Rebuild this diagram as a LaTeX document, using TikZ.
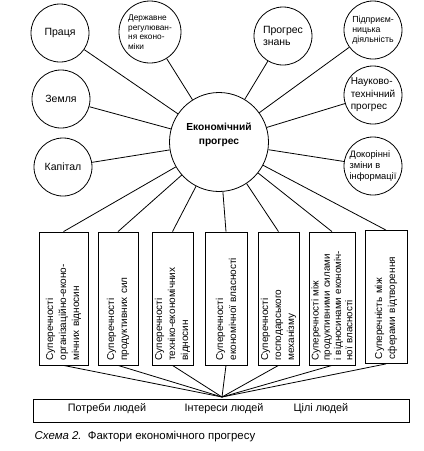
\documentclass[tikz,border=0pt]{standalone}
\usepackage{fontspec}
\setmainfont{Liberation Sans}
\tikzset{
        factor/.style = {inner sep=0pt, line width=0.8pt, draw=black},
        fac_c/.style = {factor, circle, minimum size=58pt, align=left,
            font=\fontsize{10.5}{12}\selectfont},
        fac_s/.style = {fac_c, font=\fontsize{8.8}{10}\selectfont},
        fac_m/.style = {factor, circle, minimum size=99pt},
        fac_b/.style = {factor, rectangle, rotate=90, minimum width=133pt,
            minimum height=42pt, text width=124pt, align=left,
            font=\fontsize{10}{13}\selectfont},
        fac_bar/.style = {factor, rectangle, minimum width=376pt, minimum height=23pt},
        fac_t/.style = {font=\fontsize{10.8}{13}\selectfont}
    }

\begin{document}
\begin{tikzpicture}[x=1pt,y=-1pt,line width=0.8pt]
    \useasboundingbox (0,0) rectangle (424,451);
    \node [fac_m] (eco) at (219,142) {}; % CENTRE
    \node [align=center, font=\fontsize{10.2}{14}\selectfont\bfseries] (eco_t) at (219,135)
        {Економічний\\прогрес};
    % left
    \node [fac_c] (lab) at (60,33) {Праця};
    \node [fac_c] (land) at (61,99) {Земля};
    \node [fac_c] (cap) at (63,167) {Капітал};
    % top
    \node [fac_s, minimum size=62pt, font=\fontsize{8.3}{9.5}\selectfont] (gov) at (150,32)
        {Державне\\регулюван-\\ня еконо-\\міки};
    \node [fac_c] (know) at (283,36) {Прогрес\\знань};
    % right
    \node [fac_s] (ent) at (373,30) {Підприєм-\\ницька\\діяльність};
    \node [fac_c, font=\fontsize{10}{12.5}\selectfont] (sci) at (373,95)
        {Науково-\\технічний\\прогрес};
    \node [fac_s, font=\fontsize{9.3}{11}\selectfont] (info) at (373,166)
        {Докорінні\\зміни в\\інформації};
    \foreach \f in {lab,land,cap,gov,know,ent,sci,info}
        \draw (eco) -- (\f);
    % contradictions
    \node [fac_b, minimum height=49pt] (c1) at (63.5,298.5)
        {Суперечності\\організаційно-еконо-\\мічних відносин};
    \node [fac_b, minimum height=40pt] (c2) at (118,298.5)
        {Суперечності\\продуктивних сил};
    \node [fac_b, minimum height=41pt] (c3) at (172.5,298.5)
        {Суперечності\\техніко-економічних\\відносин};
    \node [fac_b] (c4) at (226,298.5)
        {Суперечності\\економічної власності};
    \node [fac_b, minimum height=41pt] (c5) at (278.5,298.5)
        {Суперечності\\господарського\\механізму};
    \node [fac_b, minimum height=46pt, font=\fontsize{9.8}{11.3}\selectfont] (c6) at (332,298.5)
        {Суперечності між\\продуктивними силами\\і відносинами економіч-\\ної власності};
    \node [fac_b] (c7) at (386,297)
        {Суперечність між\\сферами відтворення};
    % bottom
    \node [fac_bar] (bar) at (221,410.5) {};
    \coordinate (meet) at (222,397);
    \node [fac_t] (need) at (107,409) {Потреби людей};
    \node [fac_t] (int) at (224,409) {Інтереси людей};
    \node [fac_t] (aim) at (321,409) {Цілі людей};
    \foreach \c in {c1,c2,c3,c4,c5,c6,c7}{
        \draw (eco) -- (\c.east);
        \draw (\c.west) -- (meet);
    }
    \node [fac_t, font=\fontsize{11.4}{13}\selectfont, anchor=west] (cap2) at (31,437)
        {\textit{Схема 2.}\ \ Фактори економічного прогресу};
\end{tikzpicture}
\end{document}
